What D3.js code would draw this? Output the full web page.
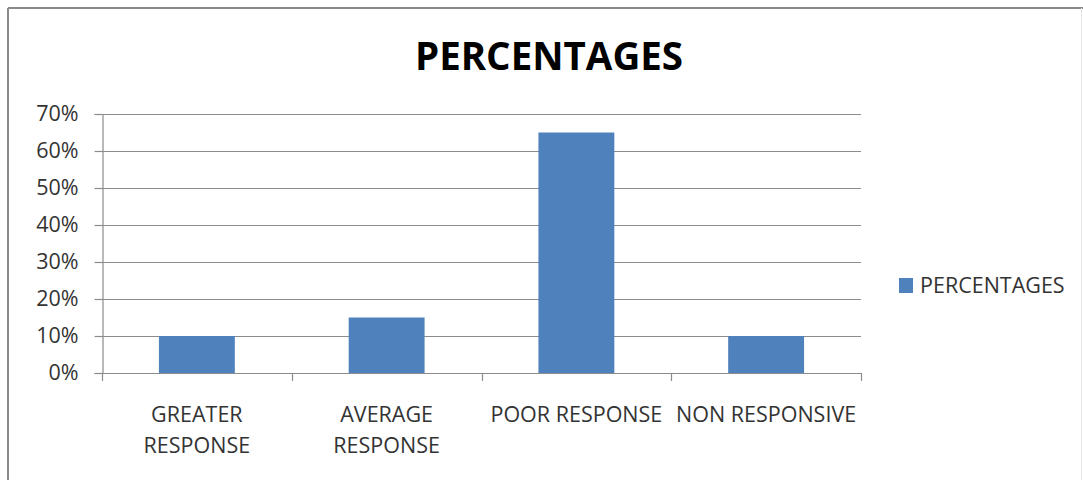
<!DOCTYPE html>
<html>
<head>
<meta charset="utf-8">
<script src="https://cdn.jsdelivr.net/npm/d3@7"></script>
<style>
  html, body { margin: 0; padding: 0; background: #fff; }
  svg { display: block; font-family: "Open Sans", "Liberation Sans", sans-serif; }
</style>
</head>
<body>
<svg id="chart" width="1083" height="480"></svg>
<script>
// Response categories and their share of respondents
const categories = ["GREATER RESPONSE", "AVERAGE RESPONSE", "POOR RESPONSE", "NON RESPONSIVE"];
const categoryLines = [["GREATER", "RESPONSE"], ["AVERAGE", "RESPONSE"], ["POOR RESPONSE"], ["NON RESPONSIVE"]];
const percentages = [0.10, 0.15, 0.65, 0.10];
const yTicks = [0, 0.1, 0.2, 0.3, 0.4, 0.5, 0.6, 0.7];
const seriesName = "PERCENTAGES";
const chartTitle = "PERCENTAGES";

const svg = d3.select("#chart");
const W = 1083, H = 480;
const plot = { left: 102, right: 861, top: 114, bottom: 373 };
const barColor = "#4F81BD";
const gridColor = "#8c8c8c";
const textColor = "#333";
const labelSize = "21.5px";

// Outer frame: darker top/left edges, faint right edge
svg.append("rect").attr("x", 0).attr("y", 0).attr("width", W).attr("height", H).attr("fill", "#fff");
svg.append("line").attr("x1", 8).attr("x2", W).attr("y1", 8).attr("y2", 8)
  .attr("stroke", "#8a8a8a").attr("stroke-width", 2);
svg.append("line").attr("x1", 8).attr("x2", 8).attr("y1", 8).attr("y2", H)
  .attr("stroke", "#8a8a8a").attr("stroke-width", 2);
svg.append("line").attr("x1", W - 1.5).attr("x2", W - 1.5).attr("y1", 8).attr("y2", H)
  .attr("stroke", "#e4e4e4").attr("stroke-width", 1);

const x = d3.scaleBand().domain(categories).range([plot.left, plot.right])
  .paddingInner(0.6).paddingOuter(0.3);
const y = d3.scaleLinear().domain([0, 0.7]).range([plot.bottom, plot.top]);

// Horizontal gridlines
svg.append("g").selectAll("line").data(yTicks.filter(t => t > 0)).join("line")
  .attr("x1", plot.left).attr("x2", plot.right)
  .attr("y1", d => Math.round(y(d)) + 0.5).attr("y2", d => Math.round(y(d)) + 0.5)
  .attr("stroke", gridColor).attr("stroke-width", 1.2);

// Y axis
const yAxis = svg.append("g").attr("transform", `translate(${plot.left + 0.5},0)`)
  .call(d3.axisLeft(y).tickValues(yTicks).tickFormat(d3.format(".0%")).tickSize(8).tickPadding(16));
yAxis.select(".domain").attr("stroke", gridColor).attr("stroke-width", 1.2);
yAxis.selectAll(".tick line").attr("stroke", gridColor).attr("stroke-width", 1.2);
yAxis.selectAll(".tick text").attr("fill", textColor)
  .style("font-size", labelSize).style("font-family", "'Open Sans', sans-serif");

// X axis baseline with ticks at category boundaries
const step = x.step();
const boundaries = d3.range(categories.length + 1).map(i => plot.left + i * step);
svg.append("line").attr("x1", plot.left).attr("x2", plot.right)
  .attr("y1", Math.round(y(0)) + 0.5).attr("y2", Math.round(y(0)) + 0.5)
  .attr("stroke", gridColor).attr("stroke-width", 1.2);
svg.append("g").selectAll("line").data(boundaries).join("line")
  .attr("x1", d => Math.round(d) + 0.5).attr("x2", d => Math.round(d) + 0.5)
  .attr("y1", y(0)).attr("y2", y(0) + 8)
  .attr("stroke", gridColor).attr("stroke-width", 1.2);

// Bars
svg.append("g").selectAll("rect").data(percentages).join("rect")
  .attr("x", (d, i) => x(categories[i]))
  .attr("width", x.bandwidth())
  .attr("y", d => y(d))
  .attr("height", d => y(0) - y(d))
  .attr("fill", barColor);

// Category labels
const catG = svg.append("g").attr("fill", textColor)
  .style("font-size", labelSize).attr("text-anchor", "middle");
categoryLines.forEach((lines, i) => {
  const cx = x(categories[i]) + x.bandwidth() / 2;
  lines.forEach((ln, j) => {
    catG.append("text").attr("x", cx).attr("y", 422 + j * 31).text(ln);
  });
});

// Title
svg.append("text").attr("x", 549).attr("y", 70).attr("text-anchor", "middle")
  .attr("fill", "#000").style("font-size", "38.5px").style("font-weight", "700")
  .text(chartTitle);

// Legend
svg.append("rect").attr("x", 899).attr("y", 278).attr("width", 14).attr("height", 15).attr("fill", barColor);
svg.append("text").attr("x", 920).attr("y", 293).attr("fill", textColor)
  .style("font-size", labelSize).text(seriesName);
</script>
</body>
</html>
